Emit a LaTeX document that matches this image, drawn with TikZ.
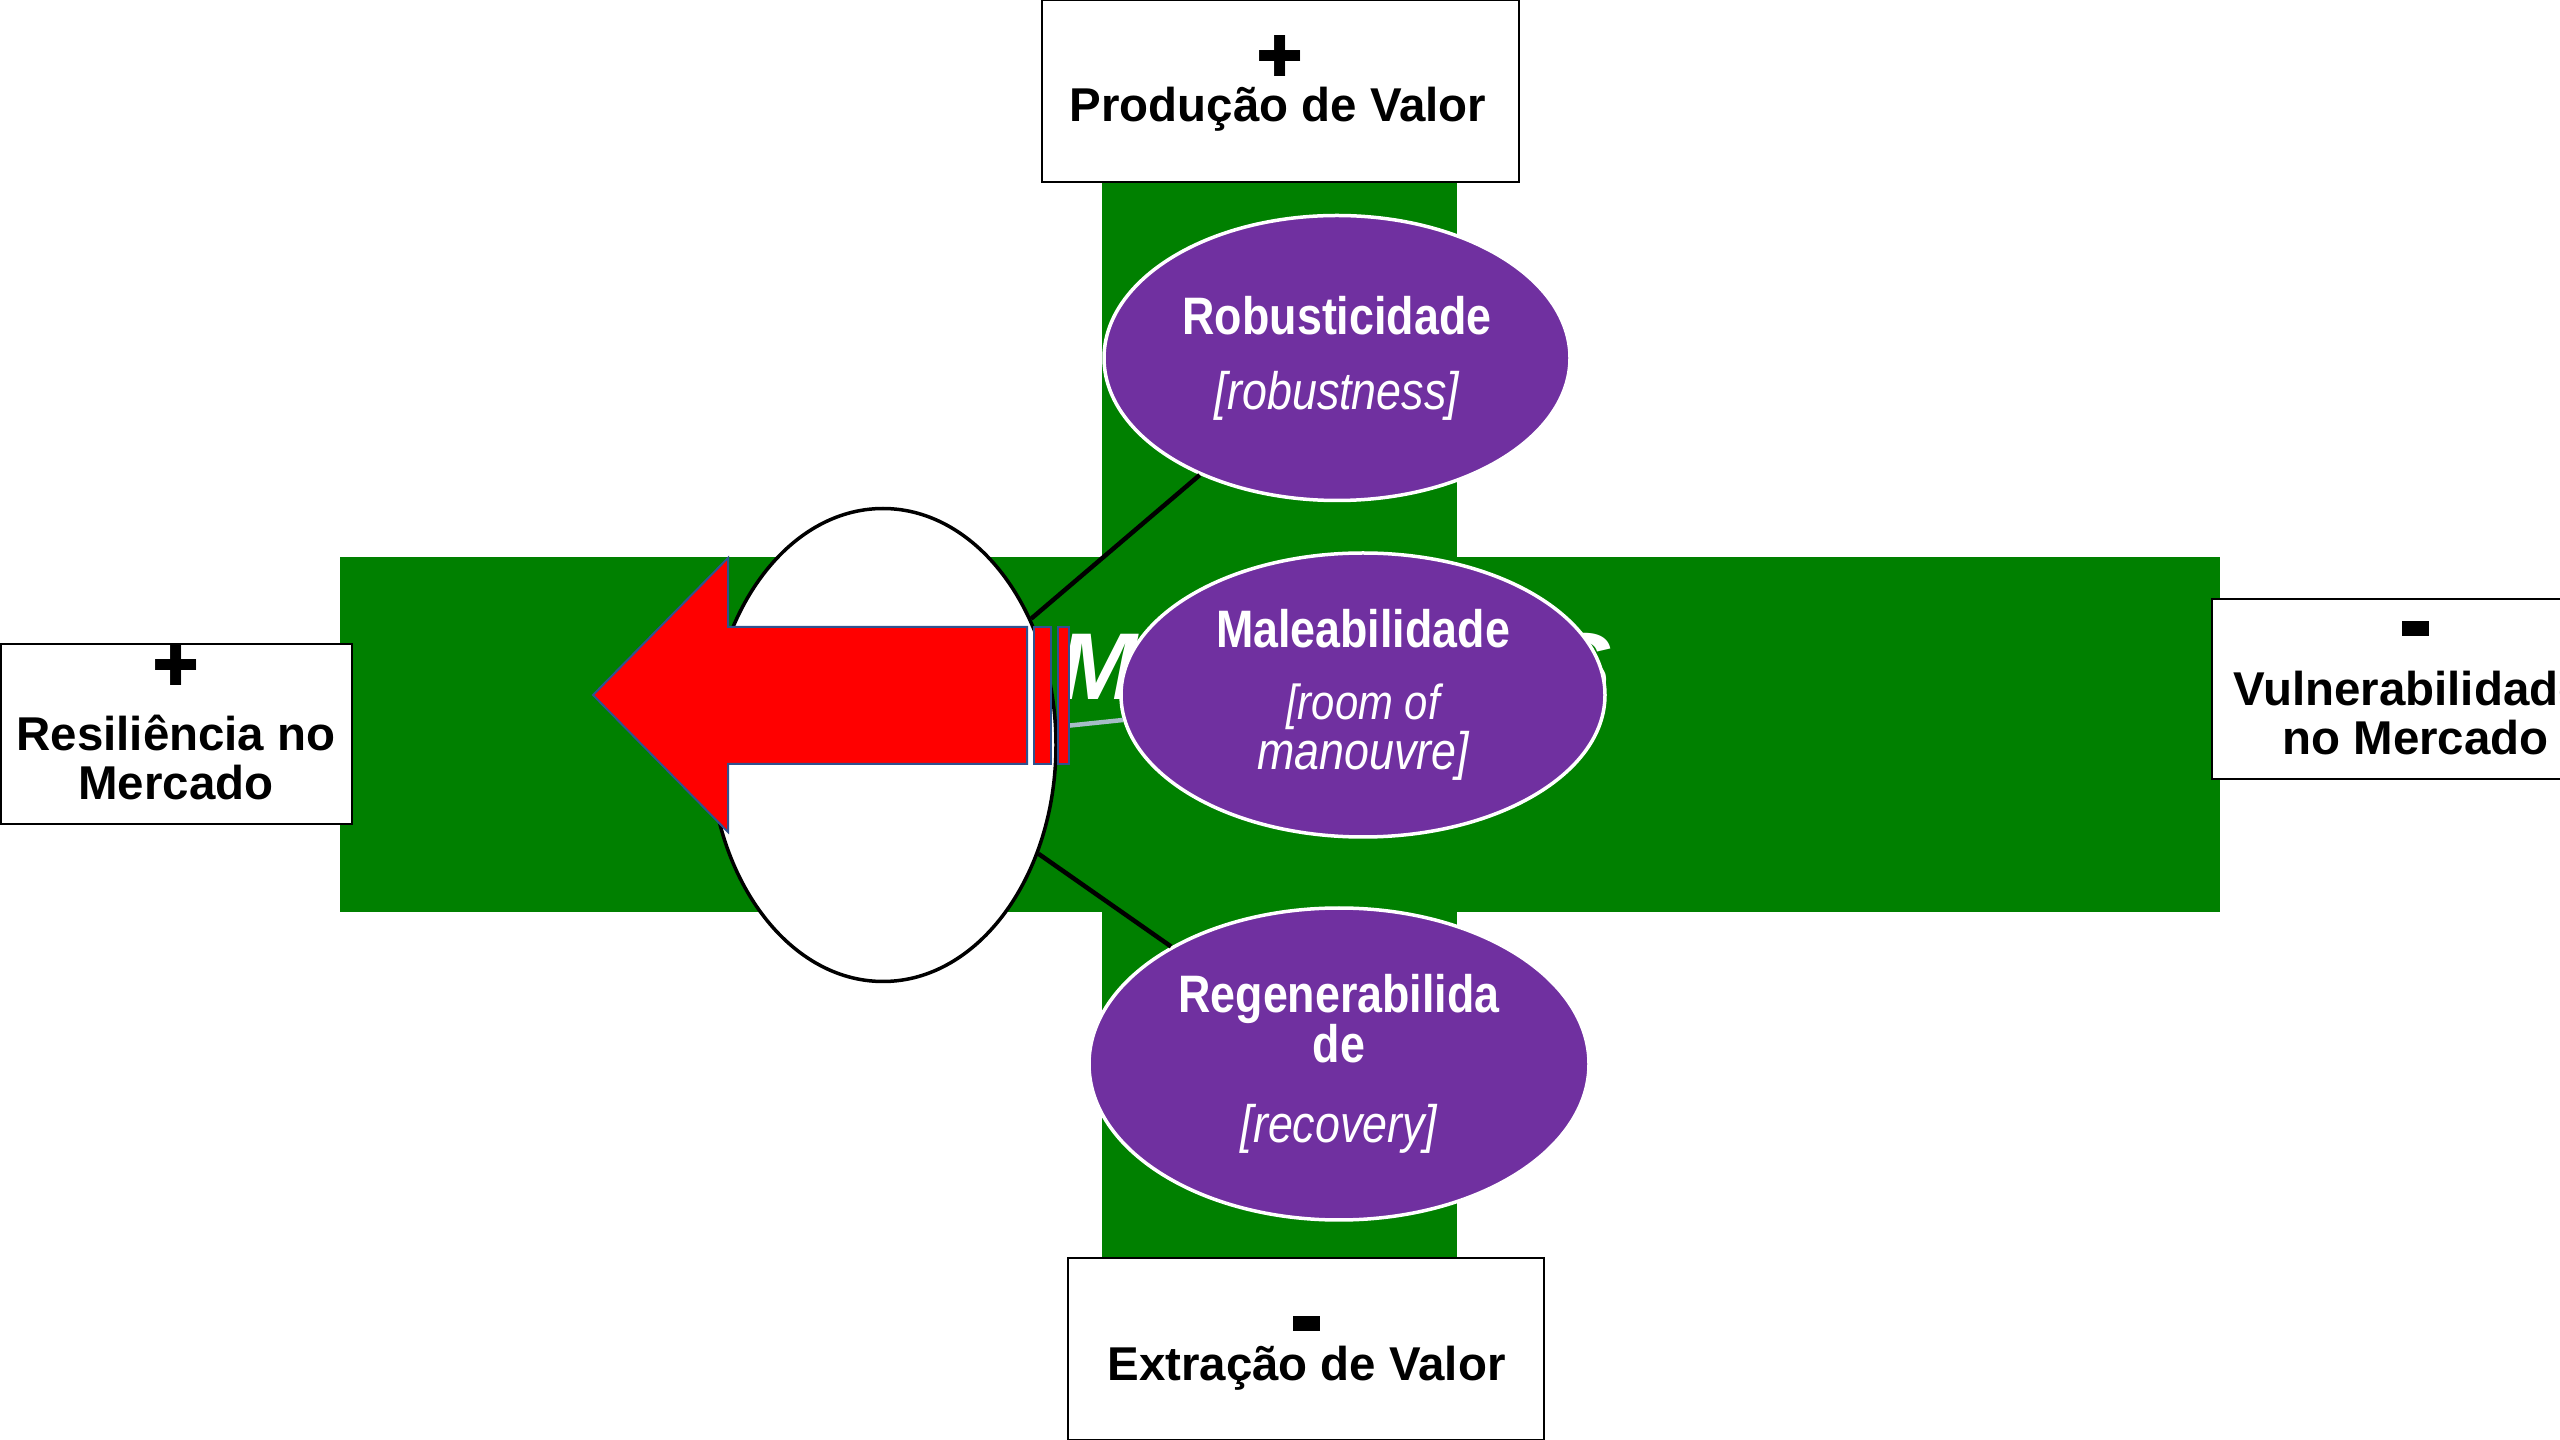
\documentclass[tikz,border=0pt]{standalone}
\usepackage{fontspec}
\setmainfont{Liberation Sans}
\newfontfamily\narrowsans{Liberation Sans}[FakeStretch=0.85]
\newfontfamily\symbolfont{DejaVu Sans}
\usetikzlibrary{shapes.geometric}

\definecolor{bargreen}{HTML}{008000}
\definecolor{bubblepurple}{HTML}{7030A0}
\definecolor{arrowred}{HTML}{FF0000}
\definecolor{arrowedge}{HTML}{2F528F}
\definecolor{linkgray}{HTML}{A6BDC6}

\tikzset{
  valuebox/.style={draw=black,line width=0.2mm,fill=white,rectangle,inner sep=0pt},
  boxtext/.style={font=\fontsize{13.5}{14.2}\selectfont\bfseries,align=center,inner sep=0pt},
  plussign/.style={font=\symbolfont\fontsize{16}{16}\selectfont,inner sep=0pt},
  minussign/.style={fill=black,minimum width=2.7mm,minimum height=1.5mm,inner sep=0pt},
  bubble/.style={ellipse,fill=bubblepurple,draw=white,line width=0.35mm,text=white,align=center,
    inner sep=0pt,font=\narrowsans\fontsize{15}{14.2}\selectfont},
  link/.style={line width=0.45mm,black},
}

\begin{document}
\begin{tikzpicture}[x=0.1mm,y=-0.1mm]
\useasboundingbox (0,0) rectangle (2560,1440);
% the green cross
\fill[bargreen] (1102,182) rectangle (1457,1258);
\fill[bargreen] (340,557) rectangle (2220,912);
\node[font=\fontsize{27}{27}\selectfont\bfseries\itshape,text=white,anchor=base west,inner sep=0pt] (mercados) at (1058,700) {MERCADOS};

% hub and the three bubbles
\node[ellipse,draw=black,line width=0.35mm,fill=white,minimum width=34.6mm,minimum height=47.3mm] (hub) at (883,745) {};
\node[bubble,minimum width=46.6mm,minimum height=28.5mm] (robust) at (1337,358)
  {\bfseries Robusticidade\\[2.5mm]\itshape [robustness]};
\node[bubble,minimum width=48.4mm,minimum height=28.4mm] (malea) at (1363,695)
  {\bfseries Maleabilidade\\[2.2mm]\fontsize{14}{14.2}\selectfont\itshape [room of\\\itshape manouvre]};
\node[bubble,minimum width=50mm,minimum height=31.2mm] (regen) at (1339,1064)
  {\bfseries Regenerabilida\\\bfseries de\\[3mm]\itshape [recovery]};

\draw[link] (hub) -- (robust);
\draw[link] (hub) -- (regen);
\draw[line width=0.45mm,linkgray] (hub) -- (malea);

% striped arrow pointing left
\draw[fill=arrowred,draw=arrowedge,line width=0.2mm,line join=miter]
  (593,695) -- (728,558) -- (728,627) -- (1027,627) -- (1027,764) -- (728,764) -- (728,832) -- cycle;
\draw[fill=arrowred,draw=arrowedge,line width=0.2mm] (1034,627) rectangle (1051,764);
\draw[fill=arrowred,draw=arrowedge,line width=0.2mm] (1058,627) rectangle (1069,764);

% value boxes
\node[valuebox,minimum width=47.7mm,minimum height=18.2mm] (prodbox) at (1280.5,91) {};
\node[plussign] (prodsign) at (1280,56) {✚};
\node[boxtext,anchor=base] (prodtext) at (1278,122) {Produção de Valor};

\node[valuebox,minimum width=47.6mm,minimum height=18.2mm] (extrbox) at (1306,1349) {};
\node[minussign] (extrsign) at (1306.5,1323.5) {};
\node[boxtext,anchor=base] (extrtext) at (1306.5,1380) {Extração de Valor};

\node[valuebox,minimum width=35.1mm,minimum height=18mm] (resilbox) at (176.5,734) {};
\node[plussign] (resilsign) at (176,665) {✚};
\node[boxtext,anchor=base] (resiltext) at (176,800) {Resiliência no\\Mercado};

\node[valuebox,minimum width=39.4mm,minimum height=18mm] (vulnbox) at (2409,689) {};
\node[minussign] (vulnsign) at (2415.5,628.5) {};
\node[boxtext,anchor=base] (vulntext) at (2409,755) {Vulnerabilidade\\~no Mercado};
\end{tikzpicture}
\end{document}
